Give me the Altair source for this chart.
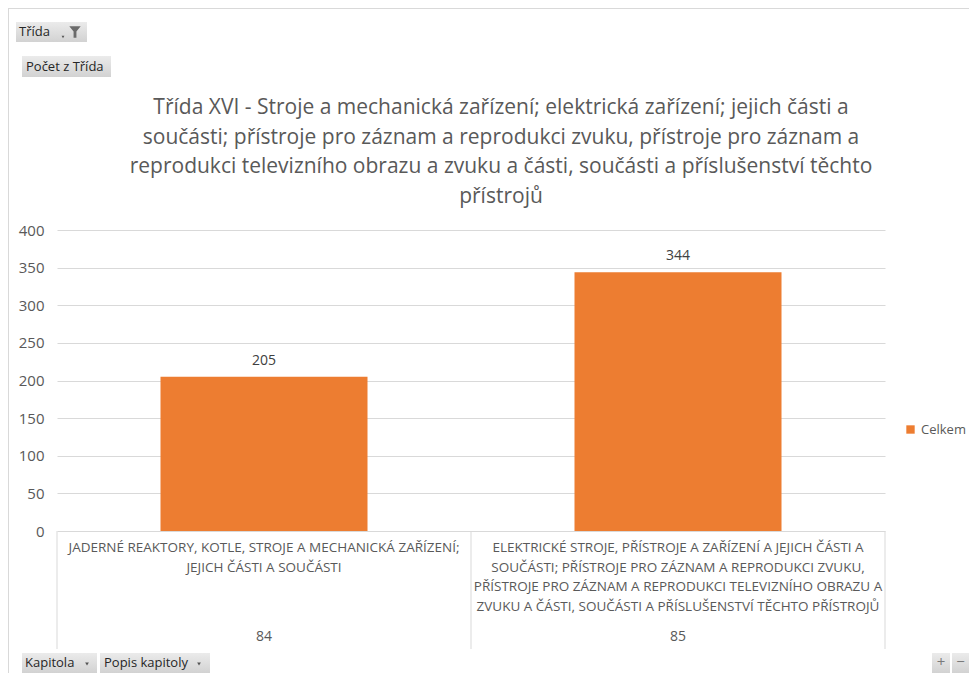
import altair as alt
import pandas as pd

# ---- data ----
kapitola = ["84", "85"]
popis = [
    "JADERNÉ REAKTORY, KOTLE, STROJE A MECHANICKÁ ZAŘÍZENÍ;\nJEJICH ČÁSTI A SOUČÁSTI",
    "ELEKTRICKÉ STROJE, PŘÍSTROJE A ZAŘÍZENÍ A JEJICH ČÁSTI A\nSOUČÁSTI; PŘÍSTROJE PRO ZÁZNAM A REPRODUKCI ZVUKU,\nPŘÍSTROJE PRO ZÁZNAM A REPRODUKCI TELEVIZNÍHO OBRAZU A\nZVUKU A ČÁSTI, SOUČÁSTI A PŘÍSLUŠENSTVÍ TĚCHTO PŘÍSTROJŮ",
]
pocet = [205, 344]
serie = ["Celkem", "Celkem"]
y_ticks = [0, 50, 100, 150, 200, 250, 300, 350, 400]
title_lines = [
    "Třída XVI - Stroje a mechanická zařízení; elektrická zařízení; jejich části a",
    "součásti; přístroje pro záznam a reprodukci zvuku, přístroje pro záznam a",
    "reprodukci televizního obrazu a zvuku a části, součásti a příslušenství těchto",
    "přístrojů",
]

FONT = "Open Sans"
GRAY = "#595959"
ORANGE = "#ed7d31"
W, H = 828, 301

df = pd.DataFrame({"kapitola": kapitola, "popis": popis, "pocet": pocet, "serie": serie})
one = pd.DataFrame({"a": [0]})

x_enc = alt.X("kapitola:N", scale=alt.Scale(paddingInner=0, paddingOuter=0), axis=None)
y_enc = alt.Y(
    "pocet:Q",
    scale=alt.Scale(domain=[0, 400], nice=False),
    axis=alt.Axis(
        values=y_ticks, grid=True, gridColor="#d9d9d9", domain=False, ticks=False,
        labelOverlap=False, labelPadding=13, labelFontSize=15, labelColor=GRAY,
        labelFont=FONT, title=None,
    ),
)

base = alt.Chart(df)

bars = base.mark_bar(width=alt.RelativeBandSize(0.5)).encode(
    x=x_enc,
    y=y_enc,
    color=alt.Color(
        "serie:N",
        scale=alt.Scale(range=[ORANGE]),
        legend=alt.Legend(
            title=None, orient="none", legendX=847, legendY=193,
            symbolType="square", symbolSize=70, symbolStrokeWidth=0,
            labelFont=FONT, labelFontSize=13, labelColor=GRAY, labelOffset=4,
        ),
    ),
)

bar_labels = base.mark_text(baseline="middle", dy=-16, font=FONT, fontSize=14, color="#404040").encode(
    x=x_enc, y=y_enc, text="pocet:Q"
)

cat_labels = base.mark_text(
    baseline="top", lineBreak="\n", font=FONT, fontSize=13.5, lineHeight=19.5, color=GRAY
).encode(x=x_enc, y=alt.value(H + 10), text="popis:N")

num_labels = base.mark_text(baseline="middle", font=FONT, fontSize=14, color=GRAY).encode(
    x=x_enc, y=alt.value(H + 106), text="kapitola:N"
)

layers = [bars, bar_labels, cat_labels, num_labels]

# category table lines
for xv in [0, W / 2, W]:
    layers.append(
        alt.Chart(one).mark_rule(color="#d9d9d9", strokeWidth=1).encode(
            x=alt.value(xv), y=alt.value(H), y2=alt.value(H + 118)
        )
    )

# outer frame lines
layers.append(alt.Chart(one).mark_rule(color="#d9d9d9").encode(
    x=alt.value(-48.5), y=alt.value(-222), y2=alt.value(H + 142)))
layers.append(alt.Chart(one).mark_rule(color="#d9d9d9").encode(
    x=alt.value(-49), x2=alt.value(W + 84), y=alt.value(-221.5)))

# title
for i, line in enumerate(title_lines):
    layers.append(
        alt.Chart(one).mark_text(font=FONT, fontSize=21, color=GRAY, baseline="middle", align="center").encode(
            x=alt.value(444), y=alt.value(-122 + i * 29.6), text=alt.value(line)
        )
    )

grad = alt.LinearGradient(
    gradient="linear",
    stops=[alt.GradientStop(color="#ebebeb", offset=0), alt.GradientStop(color="#d2d2d2", offset=1)],
    x1=0, x2=0, y1=0, y2=1,
)

def button(x1, x2, y1, y2, label, tx, arrow_x=None):
    out = [
        alt.Chart(one).mark_rect(fill=grad).encode(
            x=alt.value(x1), x2=alt.value(x2), y=alt.value(y1), y2=alt.value(y2)
        ),
        alt.Chart(one).mark_text(font=FONT, fontSize=13, color="#262626", align="left", baseline="middle").encode(
            x=alt.value(tx), y=alt.value((y1 + y2) / 2), text=alt.value(label)
        ),
    ]
    if arrow_x is not None:
        out.append(
            alt.Chart(one).mark_point(shape="triangle-down", filled=True, size=14, color="#555555", opacity=1).encode(
                x=alt.value(arrow_x), y=alt.value((y1 + y2) / 2 + 1)
            )
        )
    return out

# pivot field buttons (relative to plot origin at page 57,230)
layers += button(-41, 30, -208, -188, "Třída", -38)
layers.append(alt.Chart(one).mark_point(shape="triangle-down", filled=True, size=8, color="#555555", opacity=1).encode(
    x=alt.value(6), y=alt.value(-193)))
layers.append(alt.Chart(one).mark_point(
    shape="M-1,-1L1,-1L0.25,-0.1L0.25,1L-0.25,1L-0.25,-0.1Z", filled=True, size=130, color="#6b6b6b", opacity=1
).encode(x=alt.value(18), y=alt.value(-198)))
layers += button(-35, 54, -174, -153, "Počet z Třída", -31)
layers += button(-35, 40, 423, 443, "Kapitola", -32, arrow_x=30)
layers += button(43, 153, 423, 443, "Popis kapitoly", 47, arrow_x=142)

for (a, b, s) in [(875, 893, "+"), (895, 912, "−")]:
    layers.append(alt.Chart(one).mark_rect(fill=grad).encode(
        x=alt.value(a), x2=alt.value(b), y=alt.value(423), y2=alt.value(443)))
    layers.append(alt.Chart(one).mark_text(font=FONT, fontSize=15, color="#7a7a7a", align="center", baseline="middle").encode(
        x=alt.value((a + b) / 2), y=alt.value(432), text=alt.value(s)))

chart = alt.layer(*layers).properties(
    width=W, height=H,
    padding={"left": 49, "top": 222, "right": 84, "bottom": 142},
    autosize=alt.AutoSizeParams(type="none"),
    background="white",
).configure_view(stroke=None)

chart.save("out.html", embed_options={"renderer": "svg", "actions": False})
